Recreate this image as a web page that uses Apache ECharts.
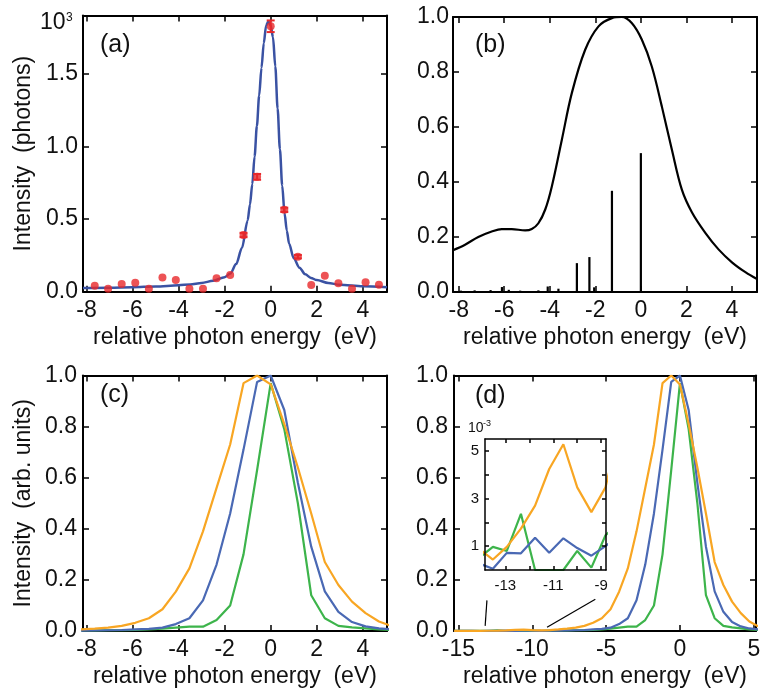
<!DOCTYPE html>
<html><head><meta charset="utf-8">
<script src="https://cdn.jsdelivr.net/npm/echarts@6/dist/echarts.min.js"></script>
<style>html,body{margin:0;padding:0;background:#fff}#c{width:771px;height:699px}</style>
</head><body><div id="c"></div>
<script>
const FONT = '"Liberation Sans", Arial, Helvetica, sans-serif';
const INK = '#111';
const RED = '#e8282b', FITBLUE = '#3a52a3';
const ORANGE = '#f8a623', BLUE = '#4a69b4', GREEN = '#3db44b';

// ---------- panel (a) ----------
const expEnergy = [-7.64,-7.06,-6.47,-5.88,-5.29,-4.70,-4.12,-3.53,-2.94,-2.35,-1.76,-1.18,-0.59,0.00,0.59,1.18,1.76,2.35,2.94,3.53,4.12,4.70];
const expCounts = [0.041,0.021,0.053,0.062,0.021,0.097,0.081,0.021,0.021,0.092,0.115,0.39,0.79,1.826,0.563,0.241,0.046,0.11,0.058,0.021,0.065,0.048];
const expError  = [0,0,0,0,0,0,0,0,0,0,0,0.015,0.02,0.04,0.015,0.012,0,0,0,0,0,0];
const fitEnergy = [-8.15,-7,-6,-5,-4,-3.5,-3,-2.5,-2,-1.75,-1.5,-1.25,-1.0,-0.9,-0.8,-0.7,-0.6,-0.5,-0.4,-0.3,-0.2,-0.1,0,0.1,0.2,0.3,0.4,0.5,0.6,0.7,0.8,1.0,1.25,1.5,1.75,2.0,2.5,3,4,5.05];
const fitCounts = [0.025,0.028,0.031,0.036,0.044,0.05,0.06,0.075,0.1,0.125,0.19,0.30,0.49,0.60,0.74,0.93,1.14,1.35,1.54,1.71,1.83,1.86,1.83,1.75,1.55,1.26,0.98,0.73,0.54,0.42,0.33,0.23,0.165,0.12,0.095,0.08,0.06,0.048,0.037,0.03];

// ---------- panel (b) ----------
const calcEnergy = [-8.25,-7.72,-7.14,-6.55,-6.11,-5.67,-5.08,-4.79,-4.5,-4.2,-3.91,-3.47,-3.03,-2.45,-1.86,-1.27,-0.84,-0.4,0.04,0.48,0.92,1.36,1.8,2.24,2.83,3.41,4.0,4.59,5.1];
const calcIntensity = [0.152,0.172,0.20,0.22,0.229,0.229,0.224,0.229,0.25,0.30,0.384,0.554,0.724,0.88,0.966,0.996,1.0,0.978,0.918,0.82,0.675,0.518,0.372,0.29,0.215,0.155,0.108,0.072,0.047];
const stickEnergy = [-7.9,-7.3,-6.6,-6.1,-5.8,-5.3,-4.5,-4.09,-3.62,-2.81,-2.26,-2.05,-1.27,0.0];
const stickStrength = [0.005,0.006,0.007,0.018,0.008,0.005,0.006,0.02,0.012,0.105,0.127,0.017,0.368,0.505];

// ---------- panels (c), (d) and inset ----------
const specEnergy = [-15.29,-14.70,-14.11,-13.52,-12.94,-12.35,-11.76,-11.17,-10.58,-10.00,-9.41,-8.82,-8.23,-7.64,-7.06,-6.47,-5.88,-5.29,-4.70,-4.12,-3.53,-2.94,-2.35,-1.76,-1.18,-0.59,0.00,0.59,1.18,1.76,2.35,2.94,3.53,4.12,4.70,5.29];
const orangeSpec = [0.0006,0.0008,0.0009,0.00044,0.00097,0.00174,0.0027,0.00424,0.00528,0.00347,0.00243,0.00347,0.006,0.009,0.013,0.02,0.032,0.05,0.085,0.154,0.245,0.39,0.56,0.73,0.97,1.0,0.965,0.81,0.64,0.46,0.27,0.18,0.115,0.07,0.037,0.018];
const blueSpec   = [0.0003,0.0005,0.00028,0.00005,0.00072,0.0007,0.00135,0.00072,0.00133,0.00092,0.0006,0.001,0.0015,0.002,0.003,0.004,0.006,0.008,0.013,0.027,0.05,0.12,0.26,0.46,0.71,0.975,1.0,0.865,0.58,0.33,0.155,0.075,0.035,0.018,0.01,0.006];
const greenSpec  = [0.0004,0.0002,0.0005,0.00097,0.0008,0.00236,0.0,0.0,0.0,0.0008,0.0001,0.00146,0.002,0.002,0.003,0.003,0.004,0.006,0.009,0.013,0.017,0.017,0.043,0.10,0.30,0.63,0.97,0.79,0.50,0.14,0.05,0.02,0.014,0.01,0.006,0.004];
const guideLeft  = [[-13.19,0.02],[-13.07,0.12]];
const guideRight = [[-9.0,0.015],[-5.73,0.124]];

// ---------- ticks ----------
const ticksX8 = [-8,-6,-4,-2,0,2,4];
const ticksAY = [0,0.5,1.0,1.5];
const ticksY1 = [0,0.2,0.4,0.6,0.8,1.0];
const ticksDX = [-15,-10,-5,0,5];
const insetTicksX = [-13,-12,-11,-10,-9];
const insetLabelsX = [-13,-11,-9];
const insetTicksY = [0.001,0.002,0.003,0.004,0.005];
const insetLabelsY = [0.001,0.003,0.005];

const fmtInt = v => String(Math.round(v));
const fmt1 = v => v.toFixed(1);
const fmtMilli = v => String(Math.round(v * 1000));

function axes(kind, g, min, max, ticks, labels, fmt, margin, name, nameGap, small) {
  const lw = small ? 1.5 : 2;
  const base = {
    gridIndex: g, type: 'value', min: min, max: max, splitLine: {show: false}, z: small ? 30 : 0,
    axisLine: {show: true, onZero: false, lineStyle: {color: '#000', width: lw}},
    axisTick: {show: true, inside: true, length: small ? 4 : 6, lineStyle: {color: '#000', width: 1.5}, customValues: ticks}
  };
  const main = Object.assign({}, base, {
    position: kind === 'x' ? 'bottom' : 'left',
    axisLabel: {show: true, customValues: labels, formatter: fmt, margin: margin, color: INK,
      fontSize: small ? 15 : 23, fontFamily: FONT},
    name: name || '', nameLocation: 'middle', nameGap: nameGap || 0,
    nameTextStyle: {fontSize: 23, fontFamily: FONT, color: INK}
  });
  const other = Object.assign({}, base, {position: kind === 'x' ? 'top' : 'right', axisLabel: {show: false}, name: ''});
  return [main, other];
}

const XNAME = 'relative photon energy  (eV)';
const xAxis = [].concat(
  axes('x', 0, -8.15, 5.05, ticksX8, ticksX8, fmtInt, 7, XNAME, 34),
  axes('x', 1, -8.25, 5.1, ticksX8, ticksX8, fmtInt, 7, XNAME, 34),
  axes('x', 2, -8.15, 5.05, ticksX8, ticksX8, fmtInt, 7, XNAME, 34),
  axes('x', 3, -15.3, 5.15, ticksDX, ticksDX, fmtInt, 7, XNAME, 34),
  axes('x', 4, -13.85, -8.8, insetTicksX, insetLabelsX, fmtInt, 8, '', 0, true)
);
const yAxis = [].concat(
  axes('y', 0, 0, 1.9, ticksAY, ticksAY, fmt1, 5, 'Intensity  (photons)', 48),
  axes('y', 1, 0, 1.0, ticksY1, ticksY1, fmt1, 4, '', 0),
  axes('y', 2, 0, 1.0, ticksY1, ticksY1, fmt1, 6, 'Intensity  (arb. units)', 48),
  axes('y', 3, 0, 1.0, ticksY1, ticksY1, fmt1, 6, '', 0),
  axes('y', 4, 0, 0.0055, insetTicksY, insetLabelsY, fmtMilli, 6, '', 0, true)
);

const pairs = (xs, ys) => xs.map((x, i) => [x, ys[i]]);
function specLine(ax, data, color, z) {
  return {type: 'line', xAxisIndex: ax, yAxisIndex: ax, data: pairs(specEnergy, data), symbol: 'none',
    lineStyle: {color: color, width: 2.2}, z: z, clip: true};
}

const series = [
  // (a)
  {type: 'line', xAxisIndex: 0, yAxisIndex: 0, data: pairs(fitEnergy, fitCounts), symbol: 'none', smooth: 0.3,
   smoothMonotone: 'x', lineStyle: {color: FITBLUE, width: 2.5}, z: 2},
  {type: 'scatter', xAxisIndex: 0, yAxisIndex: 0, data: pairs(expEnergy, expCounts), symbol: 'circle', symbolSize: 8,
   itemStyle: {color: RED}, z: 3},
  {type: 'custom', xAxisIndex: 0, yAxisIndex: 0, z: 4,
   data: expEnergy.map((x, i) => [x, expCounts[i], expError[i]]).filter(d => d[2] > 0),
   renderItem: function (params, api) {
     const x = api.value(0), y = api.value(1), e = api.value(2);
     const t = api.coord([x, y + e]), b = api.coord([x, y - e]);
     const hw = 4, st = {stroke: RED, lineWidth: 2};
     return {type: 'group', children: [
       {type: 'line', shape: {x1: t[0], y1: t[1], x2: b[0], y2: b[1]}, style: st},
       {type: 'line', shape: {x1: t[0] - hw, y1: t[1], x2: t[0] + hw, y2: t[1]}, style: st},
       {type: 'line', shape: {x1: b[0] - hw, y1: b[1], x2: b[0] + hw, y2: b[1]}, style: st}
     ]};
   }},
  // (b)
  {type: 'line', xAxisIndex: 2, yAxisIndex: 2, data: pairs(calcEnergy, calcIntensity), symbol: 'none', smooth: 0.35,
   lineStyle: {color: '#000', width: 2.2}, z: 2},
  {type: 'bar', xAxisIndex: 2, yAxisIndex: 2, data: pairs(stickEnergy, stickStrength), barWidth: 2.2,
   itemStyle: {color: '#000'}, z: 2},
  // (c)
  specLine(4, greenSpec, GREEN, 2), specLine(4, blueSpec, BLUE, 3), specLine(4, orangeSpec, ORANGE, 4),
  // (d)
  specLine(6, greenSpec, GREEN, 2), specLine(6, blueSpec, BLUE, 3), specLine(6, orangeSpec, ORANGE, 4),
  {type: 'line', xAxisIndex: 6, yAxisIndex: 6, data: guideLeft, symbol: 'none', lineStyle: {color: '#000', width: 1.2}, z: 5},
  {type: 'line', xAxisIndex: 6, yAxisIndex: 6, data: guideRight, symbol: 'none', lineStyle: {color: '#000', width: 1.2}, z: 5},
  // inset
  specLine(8, greenSpec, GREEN, 21), specLine(8, blueSpec, BLUE, 22), specLine(8, orangeSpec, ORANGE, 23)
];

function label(txt, x, y, size) {
  return {type: 'text', x: x, y: y, z: 100,
    style: {text: txt, fontSize: size, fontFamily: FONT, fill: INK, verticalAlign: 'middle'}};
}

const option = {
  animation: false,
  backgroundColor: '#fff',
  grid: [
    {left: 83, top: 15.5, width: 304, height: 276.2},
    {left: 453, top: 17, width: 304, height: 275},
    {left: 83, top: 375.5, width: 304, height: 255.5},
    {left: 454, top: 375.5, width: 302, height: 255.5},
    {left: 485, top: 439, width: 121, height: 131, show: true, backgroundColor: '#fff', borderWidth: 0, z: 10}
  ],
  xAxis: xAxis,
  yAxis: yAxis,
  series: series,
  graphic: [
    label('(a)', 100, 45, 25), label('(b)', 475, 45, 25), label('(c)', 100, 395, 25), label('(d)', 475, 396, 25),
    label('10', 40, 23, 23), label('3', 66, 18, 12),
    label('10', 468, 428, 14), label('-3', 483, 424, 9)
  ]
};

const chart = echarts.init(document.getElementById('c'), null, {renderer: 'canvas'});
chart.setOption(option);
</script></body></html>
